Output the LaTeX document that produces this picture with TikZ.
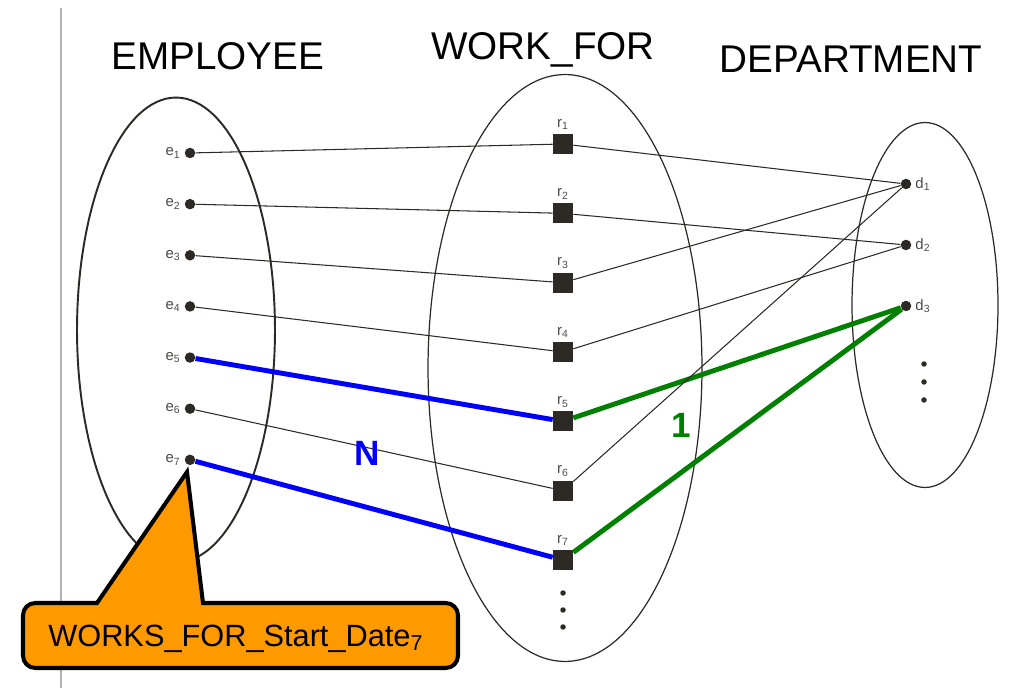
\documentclass[tikz,border=0pt]{standalone}
\usepackage{fontspec}
\setmainfont{Liberation Sans}
\usetikzlibrary{shapes.geometric,positioning}

\definecolor{ink}{RGB}{45,42,38}
\definecolor{noteorange}{RGB}{255,153,0}
\definecolor{relgreen}{RGB}{0,128,0}

\begin{document}
\begin{tikzpicture}[x=0.02cm,y=-0.02cm,node distance=1.023cm,
    every label/.style={font=\fontsize{8.5}{10}\selectfont,text=ink!85,inner sep=2pt}]
        \tikzstyle{title}=[font=\fontsize{22}{26}\selectfont,anchor=base]
        \tikzstyle{set}=[draw=ink,ellipse,inner sep=0pt,line width=0.7pt]
        \tikzstyle{entity}=[circle,fill=ink,inner sep=0pt,minimum size=0.21cm]
        \tikzstyle{rel}=[rectangle,fill=ink,inner sep=0pt,minimum size=0.4cm]
        \tikzstyle{more}=[circle,fill=ink,inner sep=0pt,minimum size=0.11cm]
        \tikzstyle{link}=[draw=ink,line width=0.6pt]
        \tikzstyle{emplink}=[draw=blue,line width=2.8pt]
        \tikzstyle{deplink}=[draw=relgreen,line width=2.8pt]
        \tikzstyle{card}=[font=\fontsize{20}{24}\selectfont\bfseries]

        \useasboundingbox (0,0) rectangle (1024,688);
        \draw[gray!60,line width=0.6pt] (61,8) -- (61,688);

        \node[title]  (EmpTitle)  at (218,70)  {EMPLOYEE};
        \node[title]  (RelTitle)  at (543,60)  {WORK\_FOR};
        \node[title]  (DeptTitle) at (851,73)  {DEPARTMENT};

        \node[set,line width=1.1pt,minimum width=3.96cm,minimum height=9.3cm] (EmpSet) at (176,330) {};
        \node[set,minimum width=5.48cm,minimum height=11.74cm] (RelSet) at (565,368) {};
        \node[set,minimum width=2.92cm,minimum height=7.3cm]   (DeptSet) at (925,305) {};

        % employees
        \node[entity,label={left:e\textsubscript{1}}] (E1) at (190,153) {};
        \node[entity,label={left:e\textsubscript{2}}] (E2) [below of=E1] {};
        \node[entity,label={left:e\textsubscript{3}}] (E3) [below of=E2] {};
        \node[entity,label={left:e\textsubscript{4}}] (E4) [below of=E3] {};
        \node[entity,label={left:e\textsubscript{5}}] (E5) [below of=E4] {};
        \node[entity,label={left:e\textsubscript{6}}] (E6) [below of=E5] {};
        \node[entity,label={left:e\textsubscript{7}}] (E7) [below of=E6] {};

        % relationship instances
        \node[rel,label={above:r\textsubscript{1}}] (R1) at (563,144) {};
        \node[rel,label={above:r\textsubscript{2}}] (R2) [below of=R1,node distance=1.387cm] {};
        \node[rel,label={above:r\textsubscript{3}}] (R3) [below of=R2,node distance=1.387cm] {};
        \node[rel,label={above:r\textsubscript{4}}] (R4) [below of=R3,node distance=1.387cm] {};
        \node[rel,label={above:r\textsubscript{5}}] (R5) [below of=R4,node distance=1.387cm] {};
        \node[rel,label={above:r\textsubscript{6}}] (R6) [below of=R5,node distance=1.387cm] {};
        \node[rel,label={above:r\textsubscript{7}}] (R7) [below of=R6,node distance=1.387cm] {};
        \node[more] (RM1) at (563,593) {};
        \node[more] (RM2) at (563,610) {};
        \node[more] (RM3) at (563,627) {};

        % departments
        \node[entity,label={right:d\textsubscript{1}}] (D1) at (906,184) {};
        \node[entity,label={right:d\textsubscript{2}}] (D2) [below of=D1,node distance=1.22cm] {};
        \node[entity,label={right:d\textsubscript{3}}] (D3) [below of=D2,node distance=1.22cm] {};
        \node[more] (DM1) at (924,364) {};
        \node[more] (DM2) at (924,382) {};
        \node[more] (DM3) at (924,400) {};

        \path (E1) edge[link]    (R1)
              (E2) edge[link]    (R2)
              (E3) edge[link]    (R3)
              (E4) edge[link]    (R4)
              (E5) edge[emplink] (R5)
              (E6) edge[link]    (R6)
              (E7) edge[emplink] (R7);
        \path (R1) edge[link]    (D1)
              (R2) edge[link]    (D2)
              (R3) edge[link]    (D1)
              (R4) edge[link]    (D2)
              (R5) edge[deplink] (D3)
              (R6) edge[link]    (D1)
              (R7) edge[deplink] (D3);

        \node[card,text=blue]     (CardN) at (367,453) {N};
        \node[card,text=relgreen] (Card1) at (681,425) {1};

        % note on e7
        \coordinate (Tip) at (187,472);
        \draw[fill=noteorange,line width=2.3pt] (97,603) -- (Tip) -- (203,603)
              [rounded corners=7pt] -- (458,603) -- (458,668) -- (23,668) -- (23,603)
              [sharp corners] -- cycle;
        \node[font=\fontsize{17.5}{20}\selectfont,anchor=base west,inner sep=0pt] (StartDate) at (48,646)
              {WORKS\_FOR\_Start\_Date\textsubscript{7}};
\end{tikzpicture}
\end{document}
